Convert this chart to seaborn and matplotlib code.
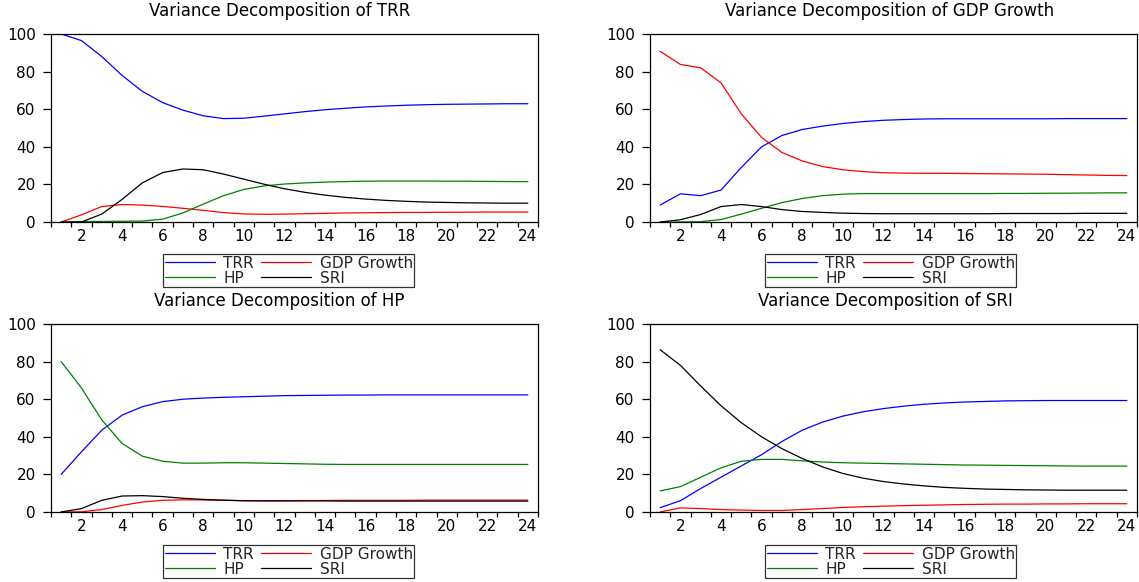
import numpy as np
import pandas as pd
import matplotlib
matplotlib.use("Agg")
import matplotlib.pyplot as plt
from matplotlib.ticker import FixedLocator
import seaborn as sns

periods = list(range(1, 25))
shock_names = ["TRR", "GDP Growth", "HP", "SRI"]
line_colors = ["#0000FF", "#FF0000", "#008000", "#000000"]

# Variance decomposition of TRR
trr_trr = [100, 96.5, 88, 78, 69.5, 63.5, 59.5, 56.5, 55, 55.2, 56.3, 57.5,
           58.7, 59.7, 60.5, 61.2, 61.7, 62.1, 62.4, 62.6, 62.7, 62.8, 62.9, 62.9]
trr_gdp = [0, 3.8, 8.2, 9.3, 9.0, 8.3, 7.3, 6.2, 5.0, 4.3, 4.1, 4.2,
           4.4, 4.6, 4.8, 4.9, 5.0, 5.1, 5.1, 5.2, 5.2, 5.3, 5.3, 5.3]
trr_hp = [0, 0.2, 0.3, 0.4, 0.5, 1.5, 4.8, 9.5, 14, 17.3, 19.2, 20.2,
          20.8, 21.2, 21.5, 21.7, 21.8, 21.8, 21.8, 21.7, 21.7, 21.6, 21.5, 21.5]
trr_sri = [0, 0, 4.2, 12, 20.8, 26.3, 28.2, 27.8, 25.5, 22.8, 20.1, 17.7,
           15.8, 14.3, 13.1, 12.2, 11.5, 11.0, 10.6, 10.4, 10.2, 10.1, 10.0, 10.0]

# Variance decomposition of GDP Growth
gdp_trr = [9, 15, 14, 17, 29, 40, 46, 49.2, 51, 52.4, 53.4, 54.1,
           54.5, 54.8, 54.9, 54.9, 54.9, 54.9, 54.9, 54.9, 55, 55, 55, 55]
gdp_gdp = [90.8, 83.8, 82, 74, 57.5, 45, 37, 32.5, 29.5, 27.8, 26.8, 26.2,
           26, 25.9, 25.9, 25.8, 25.7, 25.6, 25.5, 25.4, 25.2, 25.0, 24.8, 24.7]
gdp_hp = [0, 0, 0.2, 1.3, 4.2, 7.3, 10.3, 12.5, 14, 14.8, 15.1, 15.1,
          15.1, 15.1, 15.1, 15.1, 15.1, 15.2, 15.2, 15.3, 15.3, 15.4, 15.5, 15.5]
gdp_sri = [0, 1.2, 4, 8.2, 9.3, 8.2, 6.6, 5.6, 5.1, 4.7, 4.5, 4.4,
           4.4, 4.4, 4.4, 4.4, 4.4, 4.5, 4.5, 4.5, 4.5, 4.6, 4.6, 4.6]

# Variance decomposition of HP
hp_trr = [20, 32, 43.5, 51.5, 56, 58.7, 60, 60.6, 61, 61.3, 61.6, 61.9,
          62, 62.1, 62.2, 62.2, 62.3, 62.3, 62.3, 62.3, 62.3, 62.3, 62.3, 62.3]
hp_gdp = [0, 0.1, 1.3, 3.5, 5.3, 6.2, 6.5, 6.4, 6.2, 6.0, 6.0, 6.0,
          6.1, 6.1, 6.2, 6.2, 6.2, 6.2, 6.3, 6.3, 6.3, 6.3, 6.3, 6.3]
hp_hp = [80, 66, 49, 36.5, 29.7, 27, 26, 26, 26.2, 26.2, 26, 25.8,
         25.6, 25.4, 25.3, 25.3, 25.3, 25.3, 25.3, 25.3, 25.3, 25.3, 25.3, 25.3]
hp_sri = [0, 1.8, 6.2, 8.5, 8.7, 8.2, 7.3, 6.7, 6.3, 6.0, 5.9, 5.9,
          5.9, 5.9, 5.8, 5.8, 5.8, 5.8, 5.8, 5.8, 5.8, 5.8, 5.8, 5.8]

# Variance decomposition of SRI
sri_trr = [2.3, 6, 12.5, 18.5, 24.5, 30.5, 37.5, 43.5, 47.8, 51, 53.3, 55,
           56.3, 57.3, 58, 58.5, 58.8, 59.1, 59.2, 59.3, 59.3, 59.3, 59.3, 59.3]
sri_gdp = [0, 2.2, 1.8, 1.3, 1.0, 0.8, 0.8, 1.3, 1.8, 2.4, 2.8, 3.1,
           3.4, 3.6, 3.8, 4.0, 4.1, 4.2, 4.2, 4.3, 4.3, 4.4, 4.4, 4.4]
sri_hp = [11.2, 13.5, 18.5, 23.5, 27, 28, 28, 27.2, 26.6, 26.2, 26, 25.8,
          25.6, 25.4, 25.2, 25, 24.9, 24.8, 24.7, 24.6, 24.5, 24.4, 24.4, 24.4]
sri_sri = [86.3, 78, 67, 56.5, 47.5, 40, 33.7, 28.5, 24, 20.5, 18, 16.2,
           14.9, 13.9, 13.1, 12.6, 12.2, 12.0, 11.8, 11.7, 11.6, 11.6, 11.6, 11.6]

panel_titles = ["Variance Decomposition of TRR",
                "Variance Decomposition of GDP Growth",
                "Variance Decomposition of HP",
                "Variance Decomposition of SRI"]
panel_series = [
    [trr_trr, trr_gdp, trr_hp, trr_sri],
    [gdp_trr, gdp_gdp, gdp_hp, gdp_sri],
    [hp_trr, hp_gdp, hp_hp, hp_sri],
    [sri_trr, sri_gdp, sri_hp, sri_sri],
]

sns.set_theme(style="white")
plt.rcParams["font.family"] = ["DejaVu Sans"]

W, H = 1139, 582
fig = plt.figure(figsize=(W / 100, H / 100), dpi=100)

# axes boxes in pixels: (left, top, right, bottom)
boxes = [(51, 34, 538, 222), (650, 34, 1137, 222),
         (51, 324, 538, 512), (650, 324, 1137, 512)]
title_pos = [(280, 11), (890, 11), (279, 301), (885, 301)]
legend_pos = [(163, 254), (765, 254), (163, 545), (765, 545)]

palette = dict(zip(shock_names, line_colors))

for series, title, box, tpos, lpos in zip(panel_series, panel_titles, boxes,
                                          title_pos, legend_pos):
    l, t, r, b = box
    ax = fig.add_axes([l / W, 1 - b / H, (r - l) / W, (b - t) / H])
    df = pd.DataFrame({
        "Period": np.tile(periods, len(shock_names)),
        "Shock": np.repeat(shock_names, len(periods)),
        "Share": np.concatenate(series),
    })
    sns.lineplot(data=df, x="Period", y="Share", hue="Shock",
                 hue_order=shock_names, palette=palette, linewidth=0.9,
                 ax=ax, legend=True)
    handles, labels = ax.get_legend_handles_labels()
    ax.get_legend().remove()
    # two-column legend filled row by row
    order = [0, 2, 1, 3]
    handles = [handles[i] for i in order]
    labels = [labels[i] for i in order]

    ax.set_xlim(0.5, 24.5)
    ax.set_ylim(0, 100)
    ax.set_xlabel("")
    ax.set_ylabel("")
    ax.set_xticks(range(2, 25, 2))
    ax.set_xticklabels([str(v) for v in range(2, 25, 2)])
    ax.xaxis.set_minor_locator(FixedLocator(np.arange(0.5, 25, 1.0)))
    ax.set_yticks(range(0, 101, 20))
    ax.tick_params(axis="x", which="major", length=0, pad=5, labelsize=11,
                   colors="black")
    ax.tick_params(axis="x", which="minor", length=3.5, width=0.9,
                   direction="out", bottom=True, color="black")
    ax.tick_params(axis="y", which="major", length=6, width=0.9,
                   direction="out", left=True, pad=5, labelsize=11,
                   colors="black")
    for sp in ax.spines.values():
        sp.set_visible(True)
        sp.set_color("black")
        sp.set_linewidth(0.9)

    fig.text(tpos[0] / W, 1 - tpos[1] / H, title, ha="center", va="center",
             fontsize=12, color="black")

    leg = fig.legend(handles, labels, ncol=2, loc="upper left",
                     bbox_to_anchor=(lpos[0] / W, 1 - lpos[1] / H),
                     fontsize=11, frameon=True, fancybox=False,
                     handlelength=3.3, handletextpad=0.55, columnspacing=0.45,
                     labelspacing=0.0, borderpad=0.1, borderaxespad=0)
    leg.get_frame().set_edgecolor("black")
    leg.get_frame().set_linewidth(0.9)
    for line in leg.get_lines():
        line.set_linewidth(0.9)

fig.savefig("out.png", dpi=100)
